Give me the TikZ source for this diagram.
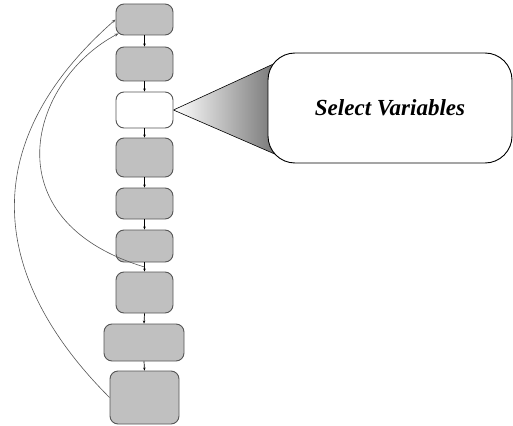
\documentclass[tikz,border=0pt]{standalone}
\usepackage{fontspec}
\setmainfont{Liberation Serif}
\usetikzlibrary{arrows.meta,calc,backgrounds}
\definecolor{boxgray}{RGB}{192,192,192}
\definecolor{edgegray}{RGB}{85,85,85}
\definecolor{tridark}{RGB}{100,100,100}
\tikzset{
  flowbox/.style={draw=edgegray, line width=0.9pt, fill=boxgray, rounded corners=8pt, minimum width=57pt, inner sep=0pt},
  whitebox/.style={flowbox, fill=white},
  flowarrow/.style={draw=black, line width=0.7pt, -{Stealth[length=3pt,width=2.5pt]}},
  loopline/.style={draw=edgegray, line width=0.6pt, -{Stealth[length=4pt,width=3pt]}},
  callout/.style={draw=black, line width=0.9pt, fill=white, rounded corners=27pt, minimum width=244pt, minimum height=110pt, inner sep=0pt, font=\fontsize{23}{27}\selectfont\bfseries\itshape}
}
\begin{document}
\begin{tikzpicture}[x=1pt,y=-1pt]
\useasboundingbox (0,0) rectangle (513,425);
\node[flowbox, minimum height=31pt] (b1) at (144.5,19.5) {};
\node[flowbox, minimum height=34pt] (b2) at (144.5,64) {};
\node[whitebox, minimum height=36pt] (b3) at (144.5,110) {};
\node[flowbox, minimum height=39pt] (b4) at (144.5,157.5) {};
\node[flowbox, minimum height=31pt] (b5) at (144.5,203.5) {};
\node[flowbox, minimum height=32pt] (b6) at (144.5,246) {};
\node[flowbox, minimum height=41pt] (b7) at (144.5,292.5) {};
\node[flowbox, minimum height=37pt, minimum width=80pt] (b8) at (144,342.5) {};
\node[flowbox, minimum height=53pt, minimum width=69pt] (b9) at (144.5,397.5) {};
% connectors
\draw[flowarrow] (b1.south) -- (b2.north);
\draw[flowarrow] (b2.south) -- (b3.north);
\draw[flowarrow] (b3.south) -- (b4.north);
\draw[flowarrow] (b4.south) -- (b5.north);
\draw[flowarrow] (b5.south) -- (b6.north);
\draw[flowarrow] (b6.south) -- (b7.north);
\draw[flowarrow] (b7.south) -- (b8.north);
\draw[flowarrow] (b8.south) -- (b9.north);
% loop-back curves
\coordinate (c67) at ($(b6.south)!0.5!(b7.north)$);
\coordinate (b1in) at ([shift={(3,-2)}]b1.south west);
\draw[loopline] (c67) .. controls +(-155,-47) and +(-89,47) .. (b1in);
\draw[loopline] (b9.west) .. controls +(-120,-120) and +(-141,124) .. (b1.west);
% callout
\node[callout] (sv) at (390,108) {Select Variables};
\coordinate (tritop) at ([shift={(22,4)}]sv.north west);
\coordinate (tribot) at ([shift={(22,-3)}]sv.south west);
\begin{scope}[on background layer]
\shade[left color=white, right color=tridark] (b3.east) -- (tritop) -- (tribot) -- cycle;
\draw[black, line width=0.6pt] (tritop) -- (b3.east) -- (tribot);
\end{scope}
\end{tikzpicture}
\end{document}
